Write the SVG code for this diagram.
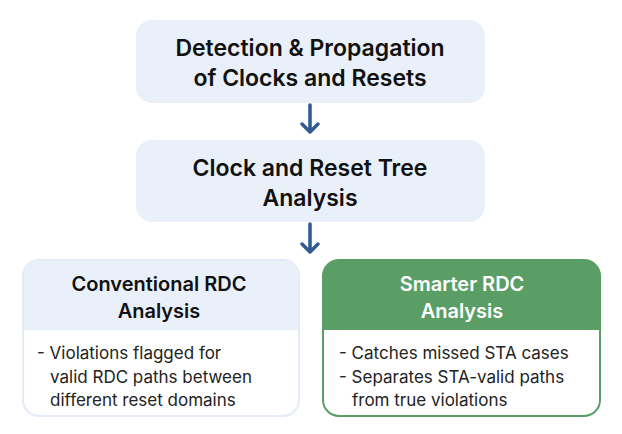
<svg xmlns="http://www.w3.org/2000/svg" width="622" height="434" viewBox="0 0 622 434">
<style>
.t{font-family:Inter,"Liberation Sans",sans-serif;font-weight:600;fill:#111;text-anchor:middle}
.b{font-family:Inter,"Liberation Sans",sans-serif;font-size:17px;fill:#222}
.c{stroke:#2f5a92;stroke-width:3.5;fill:none;stroke-linecap:round;stroke-linejoin:round}
</style>
<rect width="622" height="434" fill="#fff"/>
<g id="n1"><rect x="136" y="20" width="349" height="83" rx="16" fill="#e9f0f9"/>
<text class="t" font-size="23" x="310" y="56">Detection &amp; Propagation</text>
<text class="t" font-size="23" x="310" y="86">of Clocks and Resets</text></g>
<g id="n2"><rect x="136" y="140" width="349" height="82" rx="16" fill="#e9f0f9"/>
<text class="t" font-size="23" x="310" y="176">Clock and Reset Tree</text>
<text class="t" font-size="23" x="310" y="206">Analysis</text></g>
<g id="n3"><rect x="23" y="260" width="276" height="156" rx="16" fill="#fff" stroke="#e3ebf6" stroke-width="2"/>
<path d="M24 330 V276 a15 15 0 0 1 15 -15 H283 a15 15 0 0 1 15 15 V330 Z" fill="#e9f0f9"/>
<text class="t" font-size="20" x="159" y="291">Conventional RDC</text>
<text class="t" font-size="20" x="159" y="318">Analysis</text>
<text class="b" x="37" y="359">- Violations flagged for</text>
<text class="b" x="50" y="383">valid RDC paths between</text>
<text class="b" x="50" y="406">different reset domains</text></g>
<g id="n4"><rect x="323" y="260" width="277" height="156" rx="16" fill="#fff" stroke="#5a9e65" stroke-width="2"/>
<path d="M323 330 V276 a16 16 0 0 1 16 -16 H584 a16 16 0 0 1 16 16 V330 Z" fill="#5a9e65"/>
<text class="t" font-size="20" x="462" y="291" fill="#fff" style="fill:#fff">Smarter RDC</text>
<text class="t" font-size="20" x="462" y="318" style="fill:#fff">Analysis</text>
<text class="b" x="339" y="359">- Catches missed STA cases</text>
<text class="b" x="339" y="383">- Separates STA-valid paths</text>
<text class="b" x="352" y="406">from true violations</text></g>
<g id="connectors">
<path class="c" d="M310 105 V132 M302 124 L310 132 L318 124"/>
<path class="c" d="M310 224 V252 M302 244 L310 252 L318 244"/>
</g>
</svg>
